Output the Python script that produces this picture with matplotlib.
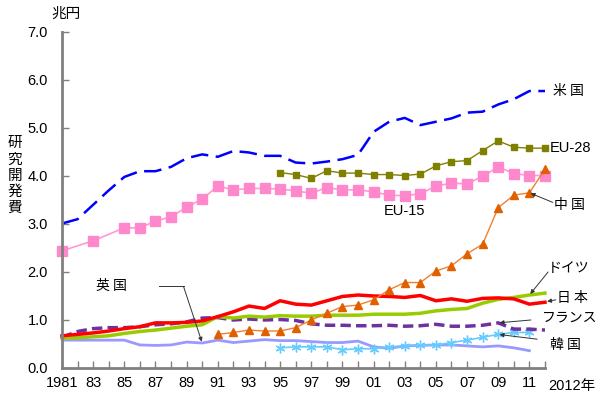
import matplotlib
matplotlib.use("Agg")
import matplotlib.pyplot as plt

plt.rcParams["font.family"] = ["Liberation Sans", "Noto Sans CJK JP", "DejaVu Sans"]

# ------------------------------------------------------------
# Data (兆円)
# ------------------------------------------------------------
years = list(range(1981, 2013))

us = [3.01, 3.10, 3.40, 3.70, 3.98, 4.10, 4.10, 4.19, 4.37, 4.45, 4.40, 4.52,
      4.49, 4.42, 4.42, 4.28, 4.26, 4.30, 4.35, 4.44, 4.92, 5.13, 5.21, 5.06,
      5.13, 5.20, 5.32, 5.34, 5.49, 5.60, 5.77, 5.77]

eu28_years = list(range(1995, 2013))
eu28 = [4.07, 4.03, 3.95, 4.11, 4.06, 4.06, 4.03, 4.03, 4.01, 4.04, 4.21, 4.30,
        4.32, 4.53, 4.73, 4.60, 4.58, 4.58]

eu15_years = [1981, 1983] + list(range(1985, 2013))
eu15 = [2.44, 2.65, 2.92, 2.92, 3.06, 3.15, 3.35, 3.52, 3.79, 3.71, 3.74, 3.74,
        3.73, 3.69, 3.64, 3.76, 3.71, 3.71, 3.67, 3.60, 3.59, 3.63, 3.79, 3.85,
        3.84, 3.99, 4.19, 4.05, 4.01, 4.01]

china_years = list(range(1991, 2013))
china = [0.70, 0.74, 0.79, 0.77, 0.77, 0.84, 1.00, 1.14, 1.28, 1.31, 1.42, 1.63,
         1.78, 1.78, 2.02, 2.13, 2.38, 2.58, 3.34, 3.60, 3.65, 4.14]

japan = [0.67, 0.70, 0.73, 0.77, 0.82, 0.86, 0.94, 0.94, 0.95, 0.98, 1.07, 1.17,
         1.29, 1.24, 1.40, 1.33, 1.31, 1.40, 1.49, 1.52, 1.50, 1.49, 1.47, 1.51,
         1.40, 1.44, 1.39, 1.45, 1.46, 1.44, 1.33, 1.37]

germany = [0.62, 0.63, 0.65, 0.67, 0.72, 0.76, 0.79, 0.83, 0.87, 0.90, 1.07, 1.04,
           1.08, 1.06, 1.09, 1.08, 1.08, 1.10, 1.10, 1.10, 1.12, 1.12, 1.12, 1.14,
           1.19, 1.22, 1.24, 1.35, 1.43, 1.47, 1.52, 1.56]

france = [0.64, 0.76, 0.82, 0.84, 0.84, 0.86, 0.90, 0.92, 0.96, 1.04, 1.05, 1.00,
          1.02, 1.00, 1.01, 0.99, 0.92, 0.89, 0.89, 0.88, 0.88, 0.89, 0.87, 0.88,
          0.91, 0.87, 0.87, 0.89, 0.94, 0.81, 0.81, 0.79]

uk_years = list(range(1981, 2012))
uk = [0.58, 0.58, 0.58, 0.58, 0.58, 0.48, 0.47, 0.48, 0.54, 0.52, 0.58, 0.53,
      0.56, 0.59, 0.57, 0.57, 0.55, 0.53, 0.53, 0.56, 0.44, 0.41, 0.46, 0.47,
      0.48, 0.48, 0.46, 0.44, 0.46, 0.42, 0.36]

korea_years = list(range(1995, 2012))
korea = [0.42, 0.44, 0.44, 0.44, 0.38, 0.40, 0.40, 0.44, 0.46, 0.47, 0.48, 0.53,
         0.58, 0.64, 0.70, 0.74, 0.74]

xtick_years = list(range(1981, 2012, 2))
xtick_labels = ["1981"] + ["%02d" % (y % 100) for y in xtick_years[1:]]

# ------------------------------------------------------------
# Figure
# ------------------------------------------------------------
fig = plt.figure(figsize=(6.0, 3.95), dpi=100)
ax = fig.add_axes([0.1033, 0.0684, 0.805, 0.8506])

ax.plot(years, us, color="#0000FF", lw=1.8, dashes=(7, 3), clip_on=False)
ax.plot(eu28_years, eu28, color="#808000", lw=1.0, marker="s", ms=5, clip_on=False)
ax.plot(eu15_years, eu15, color="#FF99D6", lw=1.2, marker="s", mfc="#FF88CC",
        mec="#FF88CC", ms=7.5, clip_on=False)
ax.plot(uk_years, uk, color="#9999FF", lw=2.0)
ax.plot(korea_years, korea, color="#66CCFF", lw=1.2, marker=(6, 2, 0), ms=7,
        mec="#66CCFF", clip_on=False)
ax.plot(years, france, color="#7030A0", lw=2.5, dashes=(3, 1.5), clip_on=False)
ax.plot(years, germany, color="#99CC00", lw=2.5, clip_on=False)
ax.plot(years, japan, color="#FF0000", lw=2.5, clip_on=False)
ax.plot(china_years, china, color="#F08030", lw=1.0, marker="^", mfc="#E06000",
        mec="#E06000", ms=6, clip_on=False)

ax.set_xlim(1981, 2012)
ax.set_ylim(0, 7)
ax.set_yticks([i for i in range(8)])
ax.set_yticklabels(["%.1f" % i for i in range(8)], fontsize=10.5)
ax.set_xticks(list(range(1981, 2013)), minor=False)
ax.set_xticklabels([xtick_labels[xtick_years.index(y)] if y in xtick_years else ""
                    for y in range(1981, 2013)], fontsize=10.5)
ax.tick_params(direction="in", length=5, width=1, color="#808080", pad=6)
ax.tick_params(axis="y", pad=10)

for s in ["top", "right"]:
    ax.spines[s].set_visible(False)
for s in ["left", "bottom"]:
    ax.spines[s].set_color("#808080")
    ax.spines[s].set_linewidth(2)

# Axis titles
fig.text(0.085, 0.965, "兆円", ha="left", va="center", fontsize=10.5,
         family=["Noto Sans CJK JP"])
fig.text(0.025, 0.555, "研\n究\n開\n発\n費", ha="center", va="center",
         fontsize=10.5, linespacing=1.2, family=["Noto Sans CJK JP"])
ax.text(2012.2, -0.38, "2012年", ha="left", va="center", fontsize=10.5,
        clip_on=False)

# Series labels
jp = dict(fontsize=10, family=["Noto Sans CJK JP", "DejaVu Sans"], clip_on=False)
ax.text(2012.5, 5.77, "米 国", ha="left", va="center", **jp)
ax.text(2012.3, 4.58, "EU-28", ha="left", va="center", fontsize=10.5)
ax.text(2003.0, 3.27, "EU-15", ha="center", va="center", fontsize=10.5)
ax.text(2012.6, 3.4, "中 国", ha="left", va="center", **jp)
ax.text(2012.2, 2.08, "ドイツ", ha="left", va="center", **jp)
ax.text(2012.8, 1.45, "日 本", ha="left", va="center", **jp)
ax.text(2011.8, 1.06, "フランス", ha="left", va="center", **jp)
ax.text(2012.3, 0.48, "韓 国", ha="left", va="center", **jp)
ax.text(1984.2, 1.7, "英 国", ha="center", va="center", **jp)

arrow = dict(arrowstyle="-|>", color="#333333", lw=0.7, mutation_scale=6,
             shrinkA=0, shrinkB=1)
ax.annotate("", xy=(2011, 3.65), xytext=(2012.5, 3.45), arrowprops=arrow,
            annotation_clip=False)
ax.annotate("", xy=(2011, 1.52), xytext=(2012.2, 2.0), arrowprops=arrow,
            annotation_clip=False)
ax.annotate("", xy=(2012.05, 1.38), xytext=(2012.7, 1.42), arrowprops=arrow,
            annotation_clip=False)
ax.annotate("", xy=(2009, 0.94), xytext=(2011.1, 1.0), arrowprops=arrow,
            annotation_clip=False)
ax.annotate("", xy=(2009, 0.70), xytext=(2011.5, 0.6), arrowprops=arrow,
            annotation_clip=False)
ax.plot([1987.2, 1988.8], [1.7, 1.7], color="#333333", lw=0.7)
ax.annotate("", xy=(1990, 0.52), xytext=(1988.8, 1.7), arrowprops=arrow)

fig.savefig("out.png", dpi=100)
